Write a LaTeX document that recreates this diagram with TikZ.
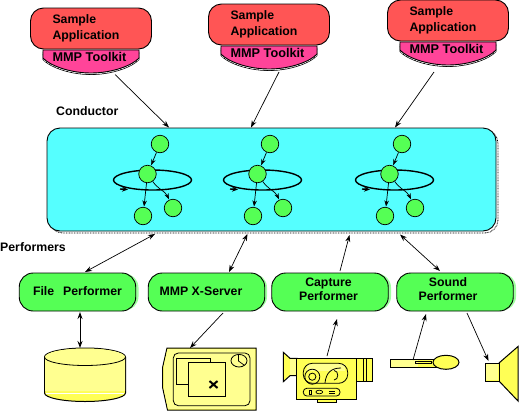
\documentclass[tikz,border=0pt]{standalone}
\usepackage{fontspec}
\setmainfont{Liberation Sans}
\usetikzlibrary{arrows.meta}
\definecolor{appred}{HTML}{FF5555}
\definecolor{toolpink}{HTML}{FF4499}
\definecolor{condcyan}{HTML}{55FFFF}
\definecolor{perfgreen}{HTML}{55FF55}
\definecolor{shadegreen}{HTML}{A0FFA0}
\definecolor{devyellow}{HTML}{FFFF55}
\definecolor{ditheryellow}{HTML}{FFFF90}
\tikzset{
  >={Stealth[length=7pt,width=5pt]},
  txt/.style={font=\fontsize{12.3}{14}\selectfont\bfseries},
  app/.style={txt,draw,line width=.9pt,fill=appred,rounded corners=13pt,minimum height=41pt,
    inner xsep=22pt,text width=77pt,align=left,inner ysep=0pt,execute at begin node={\vspace*{2pt}}},
  perf/.style={txt,draw,line width=.9pt,fill=perfgreen,rounded corners=14pt,minimum width=116.5pt,
    minimum height=38pt,inner sep=0pt,align=center},
  perfshade/.style={fill=shadegreen,rounded corners=14pt},
  tool/.style={font=\fontsize{12.7}{14}\selectfont\bfseries,inner sep=0pt},
  toolshape/.style={draw,line width=.9pt,fill=toolpink},
  caption/.style={txt,inner sep=0pt,anchor=west},
  agent/.style={circle,draw,line width=.7pt,fill=perfgreen,minimum size=17.5pt,inner sep=0pt},
  orbit/.style={line width=1.4pt},
  conn/.style={line width=.7pt},
  link/.style={conn,-{Stealth[length=6pt,width=4.5pt]},shorten >=.5pt},
  dev/.style={draw,line width=1pt,fill=devyellow},
  devline/.style={draw,line width=.8pt},
  dith/.style={fill=ditheryellow},
}
\newcommand{\kitshape}[1]{(#1-48,50) -- (#1-48,58) .. controls (#1-42,65) and (#1-22,73) .. (#1,73) .. controls (#1+22,73) and (#1+42,65) .. (#1+48,58) -- (#1+48,50)}
\newcommand{\upper}{\rule[-6pt]{0pt}{6pt}}
\begin{document}
\begin{tikzpicture}[x=1pt,y=-1pt]
\useasboundingbox (0,0) rectangle (520,413);
\fill[white] (0,0) rectangle (520,413);

% applications with toolkits
\foreach \nm/\cx/\dy in {1/91/0,2/269/-4,3/448/-8}{
  \begin{scope}[shift={(0,\dy)}]
    \draw[line width=.8pt] [shift={(0,1.5)}] \kitshape{\cx};
    \draw[white,line width=.7pt,dash pattern=on 3pt off 1.5pt] [shift={(0,.8)}] \kitshape{\cx};
    \filldraw[toolshape] \kitshape{\cx} -- cycle;
    \node[tool] (kit\nm) at (\cx-1.5,57) {MMP Toolkit};
    \node[app] (app\nm) at (\cx,28.5) {Sample\\Application};
  \end{scope}
}

\node[caption] (condlabel) at (56,111) {Conductor};
\node[caption] (perflabel) at (0,247) {Performers};

% conductor
\draw[line width=.8pt,dash pattern=on .8pt off .8pt,rounded corners=13pt] (49.5,130) rectangle (498,233);
\node[draw,line width=.9pt,fill=condcyan,rounded corners=13pt,minimum width=449pt,minimum height=103pt,inner sep=0pt] (cond) at (271.5,179.5) {};

\foreach \g/\dx in {1/0,2/110,3/242}{
  \begin{scope}[shift={(\dx,0)}]
    \draw[orbit] (152.5,180) ellipse [x radius=39,y radius=10];
    \draw[orbit,-{Stealth[length=6pt,width=5pt]}] (120,189) -- (128,189.5);
    \node[agent] (t\g) at (160,144) {};
    \node[agent] (m\g) at (147.5,174) {};
    \node[agent] (l\g) at (143,216) {};
    \node[agent] (r\g) at (173,208) {};
    \draw[link] (t\g) -- (m\g);
    \draw[link] (m\g) -- (l\g);
    \draw[link] (m\g) to[out=-55,in=115] (r\g);
  \end{scope}
}

% performers
\foreach \sx in {136,264.5,388.5,513.5}{
  \fill[perfshade] (\sx-60,273.5) rectangle (\sx+2.5,310.5);
}
\node[perf] (file) at (77.5,292) {File\hspace{9pt}Performer\rule[-2pt]{0pt}{2pt}};
\node[perf] (xsrv) at (206.5,292) {\hspace*{-11pt}MMP X-Server\rule[-2pt]{0pt}{2pt}};
\node[perf] (capt) at (330,292) {\hspace*{-3pt}Capture\\\hspace*{-3pt}Performer\upper};
\node[perf] (sound) at (455,292) {\hspace*{-14pt}Sound\\\hspace*{-14pt}Performer\upper};

% database
\filldraw[dev] (44.5,357) -- (44.5,393) arc[start angle=180,end angle=0,x radius=40.5,y radius=8.5] -- (125.5,357) arc[start angle=0,end angle=-180,x radius=40.5,y radius=9] -- cycle;
\fill[dith] (45,357) -- (45,391) -- (125,391) -- (125,357) arc[start angle=0,end angle=-180,x radius=40,y radius=8.5] -- cycle;
\draw[white,line width=1pt] (46,393) -- (124,393);
\draw[line width=.8pt] (44.5,357) arc[start angle=180,end angle=0,x radius=40.5,y radius=8.5];
\coordinate (dbtop) at (80,348);

% screen
\filldraw[dev] (167,348) -- (256,348) -- (256,410) -- (167.5,410) -- (162.7,388) -- (162.7,367) -- cycle;
\fill[dith] (167.5,349) -- (255,349) -- (255,409) -- (168,409) -- (163.5,388) -- (163.5,367) -- cycle;
\draw[devline,rounded corners=5pt] (173.3,353) rectangle (250,405.7);
\draw[line width=.8pt] (176.7,358.3) rectangle (210.7,384.3);
\filldraw[line width=.8pt,draw=black,fill=ditheryellow] (188.3,362.3) rectangle (225.3,396.7);
\draw[line width=2pt] (209.5,381) -- (217.5,388) (217.5,381) -- (209.5,388);
\draw[devline] (239,360.7) ellipse [x radius=8,y radius=6.3];
\draw[line width=.7pt] (238.5,355) -- (238.5,361) -- (244,365);
\coordinate (scrtop) at (190,348);

% camera
\filldraw[dev] (356.7,358.3) rectangle (372.7,381.7);
\filldraw[dev] (283.3,352.3) -- (290,358.3) -- (297,358.3) -- (297,375.7) -- (290,375.7) -- (283.3,381.7) -- cycle;
\fill[dith] (290,359) rectangle (296.5,375);
\filldraw[dev] (296.7,358.3) rectangle (356.7,399.3);
\filldraw[dev] (317,399.3) rectangle (336.7,402.7);
\draw[devline] (363.3,358.3) -- (363.3,381.7) (366.7,358.3) -- (366.7,381.7);
\fill[dith] (307,364) rectangle (345,371);
\draw[devline,rounded corners=9pt] (303.3,363.3) rectangle (347.7,383.3);
\draw[devline] (312.3,376.7) ellipse [radius=7.5];
\draw[devline] (312.3,376.7) ellipse [radius=3.6];
\draw[devline] (325,383) .. controls (326,373) and (331,368) .. (341,368);
\draw[devline] (334,370.5) .. controls (339,370.5) and (339,380) .. (334,380);
\draw[devline,rounded corners=3.5pt] (303.3,388.3) rectangle (340,396);
\draw[line width=.7pt] (309.5,390.3) rectangle (311.7,393.9);
\draw[line width=.7pt] (319.3,392) ellipse [x radius=3.4,y radius=1.8];
\draw[line width=.7pt] (329,391) -- (334.5,391) (329,393.2) -- (334.5,393.2);
\coordinate (camtop) at (327,356);

% microphone
\filldraw[dev] (390,359.3) rectangle (436,367.3);
\fill[dith] (391,360) rectangle (418,366.8);
\draw[devline] (415,361) rectangle (431,363.5);
\filldraw[dev] (446,362.3) ellipse [x radius=13,y radius=7];
\coordinate (mictop) at (413,360);

% speaker
\filldraw[dev] (499,363) -- (518,346.5) -- (518,401) -- (499,381) -- cycle;
\filldraw[dev] (485.3,363) rectangle (499,381);
\fill[dith] (486,363.6) rectangle (498.4,380.4);
\coordinate (spktop) at (488.5,361);

% connector ends
\coordinate (a1c) at (169,127.5);
\coordinate (a2c) at (251,127.5);
\coordinate (a3c) at (395,127.5);
\coordinate (a1s) at (115,74.5);
\coordinate (a2s) at (279,72);
\coordinate (a3s) at (434,72);
\coordinate (c1) at (155,234);
\coordinate (c2) at (247.5,234);
\coordinate (c3) at (349.5,235);
\coordinate (c4) at (400,234.5);
\coordinate (f1) at (85,272);
\coordinate (f2) at (229,272);
\coordinate (f3) at (340,271);
\coordinate (f4) at (440,271);
\coordinate (f5) at (80,312);
\coordinate (f6) at (223,313);
\coordinate (f7) at (337,319);
\coordinate (f8) at (426,314);
\coordinate (f9) at (467,313);

\draw[conn,->] (a1s) -- (a1c);
\draw[conn,->] (a2s) -- (a2c);
\draw[conn,->] (a3s) -- (a3c);
\draw[conn,<->] (c1) -- (f1);
\draw[conn,<->] (c2) -- (f2);
\draw[conn,->] (f3) -- (c3);
\draw[conn,<->] (c4) -- (f4);
\draw[line width=1pt,<->] (f5) -- (dbtop);
\draw[conn,->] (f6) -- (scrtop);
\draw[conn,->] (camtop) -- (f7);
\draw[conn,->] (mictop) -- (f8);
\draw[conn,->] (f9) -- (spktop);
\end{tikzpicture}
\end{document}
